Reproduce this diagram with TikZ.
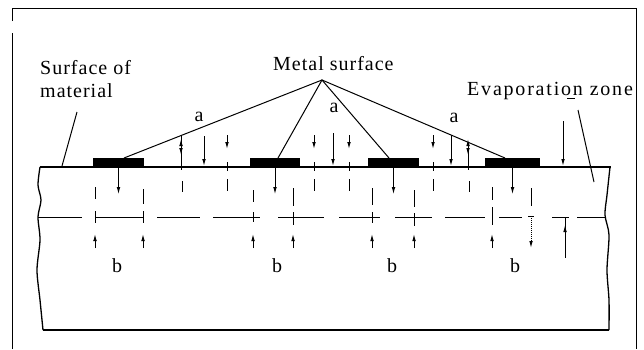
\documentclass[tikz,border=0pt]{standalone}
\usepackage{fontspec}
\setmainfont{Liberation Serif}[LetterSpace=5]
\usetikzlibrary{arrows.meta}
\begin{document}
\begin{tikzpicture}[x=1pt,y=-1pt,
  lab/.style={font=\fontsize{20}{23}\selectfont, inner sep=0pt},
  ln/.style={line width=1pt},
  edge/.style={line width=1.3pt},
  tip/.style={-{Latex[length=7pt,width=3.6pt]}},
  pad/.style={fill=black, draw=none, minimum height=9pt, inner sep=0pt}]
\useasboundingbox (0,0) rectangle (644,349);
% frame
\draw[ln] (12,349) -- (12,33);
\draw[ln] (12,21) -- (12,8) -- (636,8) -- (636,349);
% material block
\draw[edge] (40,167) -- (611,167);
\draw[edge] plot[smooth] coordinates {(40,167) (38,185) (41,200) (38,217) (40,240) (37,270) (40,300) (43,330)};
\draw[edge] (43,330) -- (609,330);
\draw[edge] plot[smooth] coordinates {(610,167) (607,195) (605,215) (609,235) (607,270) (609,300) (609,330)};
% pads
\node[pad, minimum width=51pt] (p1) at (118.5,162.5) {};
\node[pad, minimum width=50pt] (p2) at (275,162.5) {};
\node[pad, minimum width=51pt] (p3) at (393.5,162.5) {};
\node[pad, minimum width=55pt] (p4) at (512.5,162.5) {};
% labels
\node[lab, anchor=base west] (surf1) at (40,74) {Surface of};
\node[lab, anchor=base west] (surf2) at (40,97) {material};
\node[lab, anchor=base west] (metal) at (273,70) {Metal surface};
\node[lab, anchor=base west] (evap) at (467,95) {\addfontfeature{LetterSpace=9}Evaporation zone};
\node[lab] (a1) at (199,117) {a};
\node[lab] (a2) at (334,108) {a};
\node[lab] (a3) at (454,118) {a};
\node[lab] (b1) at (117,266) {b};
\node[lab] (b2) at (277,266) {b};
\node[lab] (b3) at (392,266) {b};
\node[lab] (b4) at (515,266) {b};
% apex lines
\coordinate (apex) at (322,80);
\coordinate (t1) at (124,158);
\coordinate (t2) at (278,158);
\coordinate (t3) at (389,158);
\coordinate (t4) at (505,158);
\draw[ln] (t1) -- (apex) -- (t4);
\draw[ln] (t2) -- (apex) -- (t3);
% leaders
\coordinate (ml1) at (77,112); \coordinate (ml2) at (62,166);
\draw[ln] (ml1) -- (ml2);
\coordinate (ev1) at (578,110); \coordinate (ev2) at (594,182);
\draw[ln] (ev1) -- (ev2);
\draw[ln] (567,98) -- (575,98);
% arrows above surface: double
\foreach \x/\y in {181/136, 468/142} {
  \draw[ln] (\x,\y) -- (\x,170);
  \draw[ln,tip] (\x,147) -- (\x,139);
  \draw[ln,tip] (\x,147) -- (\x,155);
}
% long down arrows
\foreach \x/\y in {204/136, 333/133, 451/135, 563/121}
  \draw[ln,tip] (\x,\y) -- (\x,166);
% short down arrows with tick and dash
\foreach \x in {227, 314, 349, 433} {
  \draw[ln,tip] (\x,135) -- (\x,149);
  \draw[ln] (\x,162) -- (\x,171);
  \draw[ln] (\x,179) -- (\x,191);
}
\foreach \x in {182, 469}
  \draw[ln] (\x,181) -- (\x,192);
% pad arrows
\foreach \p in {p1,p2,p3,p4}
  \draw[ln,tip] (\p.south) -- ++(0,27);
% horizontal dashed line
\foreach \a/\b in {38/82, 95/143, 157/200, 213/260, 278/324, 339/380, 395/432, 445/485, 499/522, 552/569, 577/605}
  \draw[ln] (\a,217) -- (\b,217);
% lower pair marks
\foreach \x/\u/\v/\c/\d in {95/187/199/211/223, 143/189/204/211/223, 253/190/202/212/222, 293/188/206/212/225, 372/188/205/212/223, 414/190/207/213/226, 492/187/200/207/225} {
  \draw[ln] (\x,\u) -- (\x,\v);
  \draw[ln] (\x,\c) -- (\x,\d);
}
\foreach \x in {95, 143, 253, 293, 372, 414, 492}
  \draw[ln,tip] (\x,248) -- (\x,234);
% odd marks near right
\draw[ln] (531,188) -- (531,206);
\draw[ln] (528,216) -- (534,216);
\draw[ln,densely dotted] (531,218) -- (531,242);
\draw[ln,tip] (531,240) -- (531,248);
\draw[ln] (565,217) -- (565,258);
\draw[ln,tip] (565,240) -- (565,225);
\end{tikzpicture}
\end{document}
